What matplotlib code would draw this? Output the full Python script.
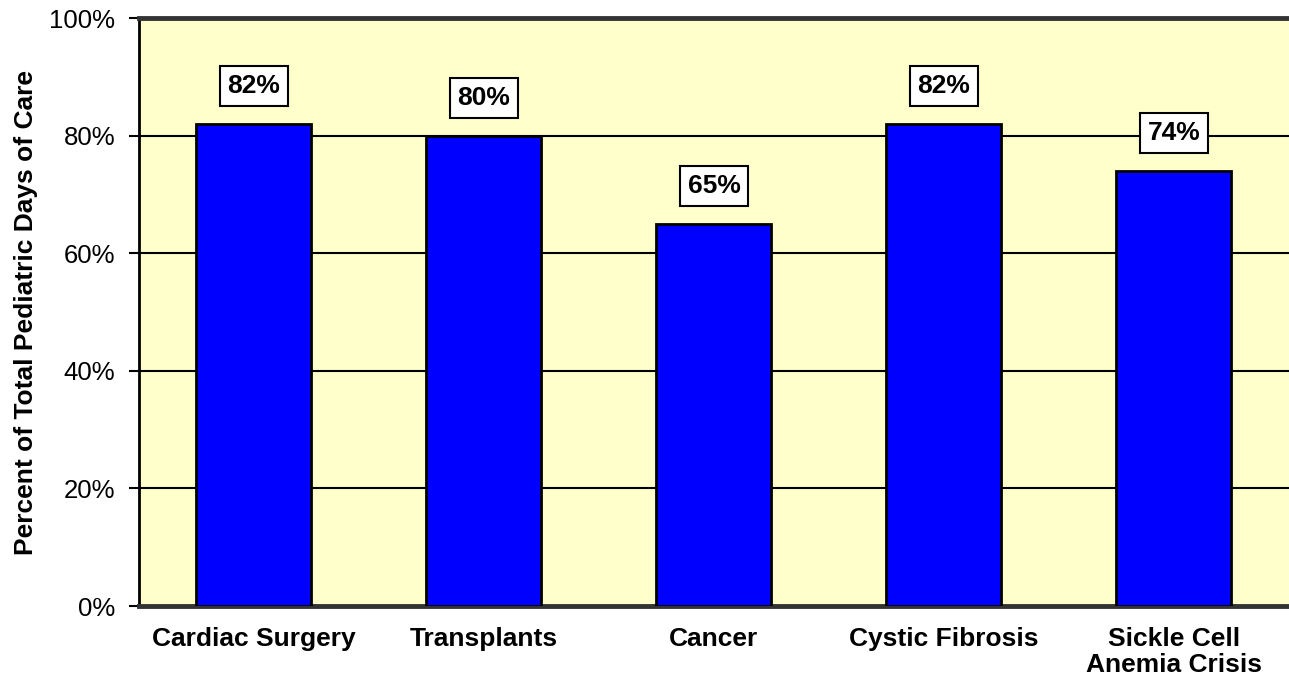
import matplotlib.pyplot as plt
import numpy as np

plt.rcParams['font.family'] = ['Liberation Sans', 'DejaVu Sans']

categories = ['Cardiac Surgery', 'Transplants', 'Cancer', 'Cystic Fibrosis',
              'Sickle Cell\nAnemia Crisis']
values = [82, 80, 65, 82, 74]
yticks = [0, 20, 40, 60, 80, 100]

fig = plt.figure(figsize=(12.89, 6.83), dpi=100)
ax = fig.add_axes([0.1078, 0.1127, 0.8922, 0.8609])
ax.set_facecolor('#FFFFCC')

x = np.arange(len(categories))
ax.bar(x, values, width=0.5, color='#0000FF', edgecolor='black',
       linewidth=2, zorder=3)

for xi, v in zip(x, values):
    ax.annotate(f'{v}%', (xi, v), xytext=(0, 27), textcoords='offset points',
                ha='center', va='center', fontsize=19, fontweight='bold',
                bbox=dict(boxstyle='square,pad=0.3', fc='white', ec='black', lw=1.5),
                zorder=4)

ax.set_xlim(-0.5, len(categories) - 0.5)
ax.set_ylim(0, 100)
ax.set_yticks(yticks)
ax.set_yticklabels([f'{t}%' for t in yticks], fontsize=18.5)
ax.set_xticks(x)
ax.set_xticklabels(categories, fontsize=19, fontweight='bold', linespacing=1.1)
ax.tick_params(axis='x', length=0, pad=15)
ax.tick_params(axis='y', length=7, width=1.5, pad=10)
ax.yaxis.grid(True, color='black', linewidth=1.5, zorder=1)
ax.set_axisbelow(True)

ax.set_ylabel('Percent of Total Pediatric Days of Care', fontsize=19,
              fontweight='bold', labelpad=8)

ax.spines['right'].set_visible(False)
ax.spines['left'].set_linewidth(2)
ax.spines['left'].set_color('black')
ax.spines['top'].set_linewidth(3.5)
ax.spines['top'].set_color('#333333')
ax.spines['bottom'].set_linewidth(3.5)
ax.spines['bottom'].set_color('#333333')

fig.savefig('out.png', dpi=100)
